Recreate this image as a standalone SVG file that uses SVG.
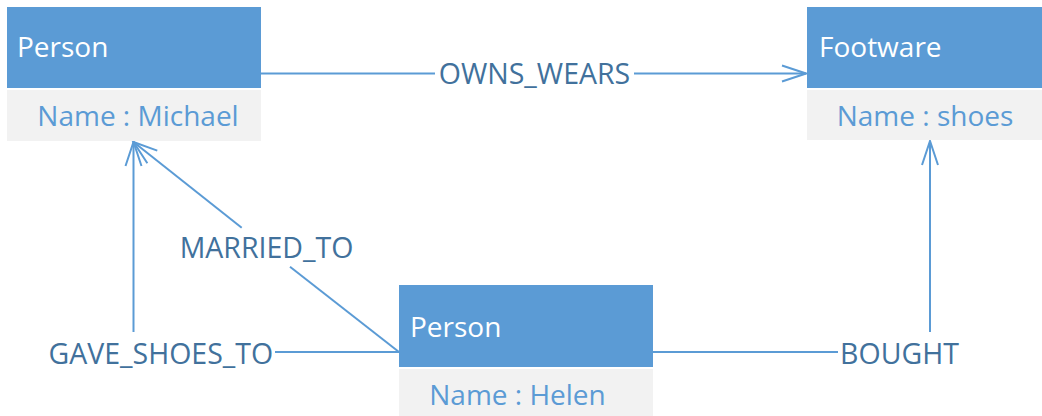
<svg xmlns="http://www.w3.org/2000/svg" width="1042" height="416" viewBox="0 0 1042 416">
  <style>
    .hdr { fill: #5B9BD5; }
    .body { fill: #F2F2F2; }
    .htxt { font-family: "Open Sans", "Liberation Sans", sans-serif; font-size: 28px; fill: #FFFFFF; }
    .btxt { font-family: "Open Sans", "Liberation Sans", sans-serif; font-size: 28px; fill: #5B9BD5; text-anchor: middle; }
    .edge { fill: none; stroke: #5B9BD5; stroke-width: 2; }
    .lbl { font-family: "Open Sans", "Liberation Sans", sans-serif; font-size: 28.5px; fill: #41719C; text-anchor: middle; }
  </style>
  <defs>
    <marker id="arrow" markerUnits="userSpaceOnUse" viewBox="-28 -11 30 22" markerWidth="30" markerHeight="22" refX="0" refY="0" orient="auto">
      <path d="M -24 -8 L 0 0 L -24 8" fill="none" stroke="#5B9BD5" stroke-width="2"/>
    </marker>
  </defs>
  <rect width="1042" height="416" fill="#FFFFFF"/>

  <g id="connectors">
    <!-- OWNS_WEARS -->
    <line class="edge" x1="261" y1="73.5" x2="435" y2="73.5"/>
    <line class="edge" x1="634" y1="73.5" x2="806" y2="73.5" marker-end="url(#arrow)"/>
    <text class="lbl" x="534.5" y="84">OWNS_WEARS</text>
    <!-- MARRIED_TO -->
    <line class="edge" x1="399" y1="352" x2="290" y2="266.7"/>
    <line class="edge" x1="241.7" y1="227.7" x2="133.5" y2="142" marker-end="url(#arrow)"/>
    <text class="lbl" x="266.5" y="258">MARRIED_TO</text>
    <!-- GAVE_SHOES_TO -->
    <line class="edge" x1="399" y1="352" x2="275" y2="352"/>
    <line class="edge" x1="133.5" y1="332" x2="133.5" y2="142" marker-end="url(#arrow)"/>
    <text class="lbl" x="160.8" y="364">GAVE_SHOES_TO</text>
    <!-- BOUGHT -->
    <line class="edge" x1="653" y1="352" x2="838" y2="352"/>
    <line class="edge" x1="930" y1="332" x2="930" y2="141" marker-end="url(#arrow)"/>
    <text class="lbl" x="899.5" y="364">BOUGHT</text>
  </g>

  <g id="node-michael">
    <rect class="hdr" x="7" y="7" width="254" height="81"/>
    <rect class="body" x="7" y="90" width="254" height="51"/>
    <text class="htxt" x="17" y="57">Person</text>
    <text class="btxt" x="138" y="126">Name : Michael</text>
  </g>

  <g id="node-footware">
    <rect class="hdr" x="807" y="7" width="235" height="81"/>
    <rect class="body" x="807" y="90" width="235" height="50"/>
    <text class="htxt" x="819" y="57">Footware</text>
    <text class="btxt" x="925" y="126">Name : shoes</text>
  </g>

  <g id="node-helen">
    <rect class="hdr" x="399" y="285" width="254" height="82"/>
    <rect class="body" x="399" y="369" width="254" height="47"/>
    <text class="htxt" x="410" y="337">Person</text>
    <text class="btxt" x="517.5" y="405">Name : Helen</text>
  </g>
</svg>
